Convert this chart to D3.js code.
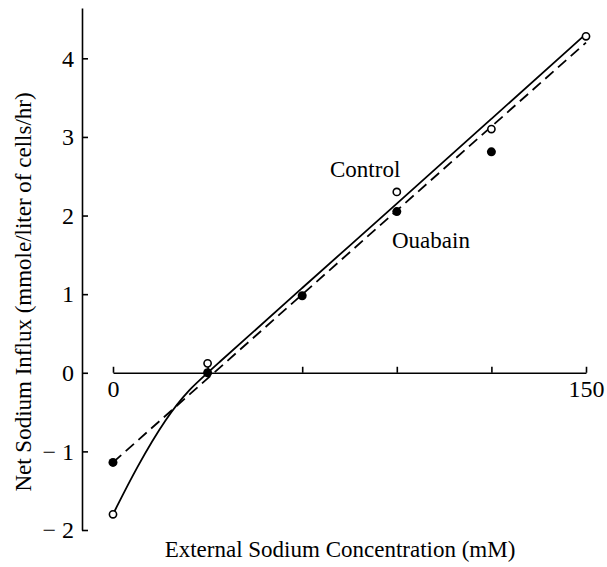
<!DOCTYPE html>
<html>
<head>
<meta charset="utf-8">
<script src="https://cdn.jsdelivr.net/npm/d3@7"></script>
<style>
  body { margin: 0; background: #fff; }
  text { font-family: "Liberation Serif", "Times New Roman", serif; }
</style>
</head>
<body>
<div id="chart"></div>
<script>
// Data (x in mM, y in mmole/liter of cells/hr)
var concentration = [0, 30, 60, 90, 120, 150];
var controlValues = [-1.8, 0.12, null, 2.3, 3.1, 4.28];
var ouabainValues = [-1.14, 0.0, 0.98, 2.05, 2.81, null];

// fitted curves as drawn in the figure
// control: curved at low concentration, straight above 30 mM
var controlCurveX = [0, 7.5, 17, 24.4, 30, 60, 90, 120, 150];
var controlCurveY = [-1.8, -1.2, -0.56, -0.2, 0.0, 1.08, 2.15, 3.23, 4.31];
// ouabain: dashed straight line
var ouabainLineX = [0, 150];
var ouabainLineY = [-1.14, 4.2];

var xTicks = [0, 30, 60, 90, 120, 150];
var yTicks = [-2, -1, 0, 1, 2, 3, 4];

var svgWidth = 607;
var svgHeight = 567;

var svg = d3.select("#chart")
    .append("svg")
    .attr("width", svgWidth)
    .attr("height", svgHeight);

// scales
var xScale = d3.scaleLinear()
    .domain([0, 150])
    .range([113, 586]);

var yScale = d3.scaleLinear()
    .domain([-2, 4.64])
    .range([530, 8]);

// y axis, ticks pointing right
var yAxis = d3.axisLeft(yScale)
    .tickValues(yTicks)
    .tickSizeInner(-6)
    .tickSizeOuter(0)
    .tickPadding(8)
    .tickFormat(d => d < 0 ? "\u2212 " + Math.abs(d) : d);

var yG = svg.append("g")
    .attr("transform", "translate(82,0)")
    .call(yAxis);

// x axis along y = 0, ticks pointing up
var xAxis = d3.axisBottom(xScale)
    .tickValues(xTicks)
    .tickSizeInner(-6)
    .tickSizeOuter(0)
    .tickPadding(7)
    .tickFormat(d => (d === 0 || d === 150) ? d : "");

var xG = svg.append("g")
    .attr("transform", `translate(0, ${yScale(0)})`)
    .call(xAxis);

[yG, xG].forEach(function(g) {
    g.selectAll("path, line").attr("stroke", "#000").attr("stroke-width", 1.6);
    g.selectAll("text")
        .attr("fill", "#000")
        .style("font-size", "24px");
});

// lines
var line = d3.line()
    .x(d => xScale(d[0]))
    .y(d => yScale(d[1]));

svg.append("path")
    .datum(controlCurveX.map((x, i) => [x, controlCurveY[i]]))
    .attr("d", line.curve(d3.curveBasis))
    .attr("fill", "none")
    .attr("stroke", "#000")
    .attr("stroke-width", 1.8);

svg.append("path")
    .datum(ouabainLineX.map((x, i) => [x, ouabainLineY[i]]))
    .attr("d", line.curve(d3.curveLinear))
    .attr("fill", "none")
    .attr("stroke", "#000")
    .attr("stroke-width", 1.8)
    .attr("stroke-dasharray", "11,6");

// points
var ouabainPts = concentration.map((x, i) => [x, ouabainValues[i]]).filter(d => d[1] !== null);
var controlPts = concentration.map((x, i) => [x, controlValues[i]]).filter(d => d[1] !== null);

svg.selectAll("circle.ouabain")
    .data(ouabainPts)
    .enter()
    .append("circle")
    .attr("class", "ouabain")
    .attr("cx", d => xScale(d[0]))
    .attr("cy", d => yScale(d[1]))
    .attr("r", 4.5)
    .attr("fill", "#000");

svg.selectAll("circle.control")
    .data(controlPts)
    .enter()
    .append("circle")
    .attr("class", "control")
    .attr("cx", d => xScale(d[0]))
    .attr("cy", d => yScale(d[1]))
    .attr("r", 3.6)
    .attr("fill", "#fff")
    .attr("stroke", "#000")
    .attr("stroke-width", 1.6);

// series labels
svg.append("text")
    .attr("x", 330)
    .attr("y", 177)
    .style("font-size", "23px")
    .text("Control");

svg.append("text")
    .attr("x", 392)
    .attr("y", 248)
    .style("font-size", "23px")
    .text("Ouabain");

// axis titles
svg.append("text")
    .attr("x", 340)
    .attr("y", 557)
    .attr("text-anchor", "middle")
    .style("font-size", "23px")
    .text("External Sodium Concentration (mM)");

svg.append("text")
    .attr("transform", "translate(31,292) rotate(-90)")
    .attr("text-anchor", "middle")
    .style("font-size", "23px")
    .text("Net Sodium Influx (mmole/liter of cells/hr)");
</script>
</body>
</html>
